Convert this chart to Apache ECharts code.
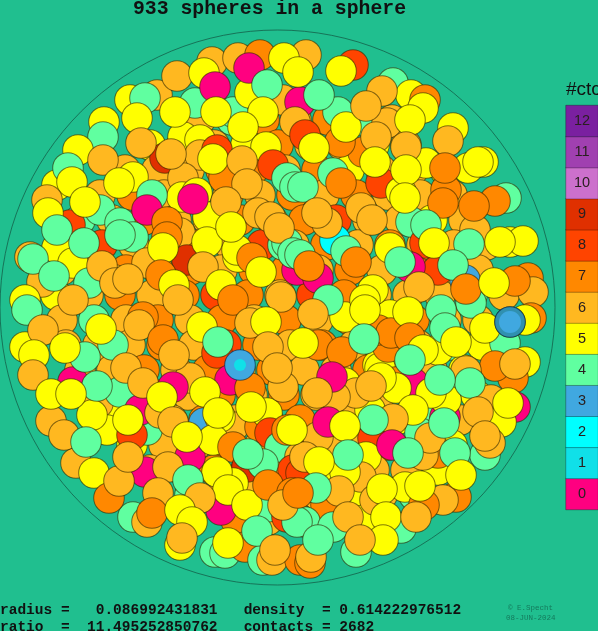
<!DOCTYPE html>
<html><head><meta charset="utf-8">
<style>html,body{margin:0;padding:0;background:#20BF8F;overflow:hidden}#c{width:598px;height:631px}</style>
<script src="https://cdn.jsdelivr.net/npm/echarts@6/dist/echarts.min.js"></script>
</head><body><div id="c"></div>
<script>
const ctcLevels = [0,1,2,3,4,5,6,7,8,9,10,11,12];
const ctcColors = ['#FF0080','#10E0E8','#00FFFF','#40A8E0','#60FFA0','#FFFF00','#FFB820','#FF8800','#FF4400','#E03000','#CC70CC','#A040B0','#7A20A0'];
const containerSphere = [[277.5,307.5]];
// spheres as [x, y, contacts], deepest first
const backSpheres = [
[200,120,6],[232,120,4],[264,120,7],[296,120,6],[328,120,7],[360,120,4],[392,120,6],
[150,145,5],[182,145,6],[214,145,6],[246,145,5],[278,145,7],[310,145,6],[342,145,6],[374,145,5],[406,145,6],
[125,170,6],[157,170,6],[189,170,6],[221,170,7],[253,170,7],[285,170,6],[317,170,7],[349,170,5],[381,170,6],[413,170,6],[445,170,5],
[100,195,6],[132,195,7],[164,195,6],[196,195,7],[228,195,6],[260,195,6],[292,195,7],[324,195,6],[356,195,7],[388,195,6],[420,195,6],[452,195,6],
[80,220,4],[112,220,6],[144,220,7],[176,220,6],[208,220,6],[240,220,7],[272,220,6],[304,220,7],[336,220,8],[368,220,6],[400,220,6],[432,220,5],[464,220,6],
[70,245,6],[102,245,8],[134,245,6],[166,245,6],[198,245,7],[230,245,6],[262,245,8],[294,245,6],[326,245,7],[358,245,6],[390,245,7],[422,245,6],[454,245,6],[486,245,6],
[62,270,6],[94,270,6],[126,270,7],[158,270,6],[190,270,7],[222,270,6],[254,270,7],[286,270,7],[318,270,6],[350,270,7],[382,270,6],[414,270,7],[446,270,6],[478,270,6],
[56,295,5],[88,295,6],[120,295,7],[152,295,6],[184,295,7],[216,295,8],[248,295,7],[280,295,6],[312,295,8],[344,295,7],[376,295,6],[408,295,6],[440,295,6],[472,295,4],[504,295,6],
[62,320,6],[94,320,4],[126,320,6],[158,320,7],[190,320,6],[222,320,7],[254,320,6],[286,320,7],[318,320,6],[350,320,7],[382,320,6],[414,320,7],[446,320,6],[478,320,6],
[66,345,6],[98,345,6],[130,345,6],[162,345,7],[194,345,6],[226,345,8],[258,345,7],[290,345,6],[322,345,7],[354,345,6],[386,345,7],[418,345,6],[450,345,4],[482,345,5],
[80,370,6],[112,370,6],[144,370,7],[176,370,6],[208,370,7],[240,370,6],[272,370,7],[304,370,6],[336,370,6],[368,370,7],[400,370,6],[432,370,6],[464,370,5],
[92,395,5],[124,395,6],[156,395,7],[188,395,6],[220,395,7],[252,395,6],[284,395,7],[316,395,6],[348,395,7],[380,395,6],[412,395,7],[444,395,4],[476,395,5],
[108,420,6],[140,420,4],[172,420,6],[204,420,7],[236,420,6],[268,420,6],[300,420,7],[332,420,6],[364,420,7],[396,420,5],[428,420,4],[460,420,6],
[132,445,5],[164,445,6],[196,445,6],[228,445,7],[260,445,6],[292,445,8],[324,445,6],[356,445,6],[388,445,7],[420,445,6],[452,445,5],
[150,470,6],[182,470,6],[214,470,7],[246,470,8],[278,470,6],[310,470,7],[342,470,5],[374,470,6],[406,470,6],[438,470,5],
[190,495,4],[222,495,6],[254,495,6],[286,495,7],[318,495,6],[350,495,5],[382,495,6],[414,495,4],
[236,520,7],[268,520,6],[300,520,7],[332,520,6],[364,520,5]
];
const midSpheres = [
[212,62,6],[238,58,6],[260,55,7],[306,55,6],[353,65,8],[393,83,4],[157,95,6],[195,103,4],[233,112,4],[250,93,5],[283,100,6],[300,102,0],[338,112,4],
[130,100,5],[183,137,5],[200,140,5],[165,158,9],[200,155,6],[217,150,8],[57,185,5],[133,177,5],[183,178,6],[224,178,7],[100,210,4],[182,197,5],[197,193,5],
[120,223,4],[133,237,4],[70,225,8],[180,233,6],[208,217,5],[258,213,6],[238,257,5],[283,245,4],[287,243,4],[30,257,6],[42,282,6],[57,248,5],[73,263,5],[147,263,6],[89,283,4],[115,280,6],[187,260,9],
[411,95,5],[425,100,7],[387,123,6],[453,128,5],[363,152,7],[340,142,7],[426,163,5],[483,162,5],[468,168,5],[333,173,4],[381,183,8],[401,192,5],[446,190,7],[506,198,4],[411,222,4],[510,242,5],[523,241,5],[475,230,6],[438,270,8],[425,243,8],[465,280,3],[528,278,7],[533,292,6],[335,240,2],[297,270,0],[237,250,5],
[25,347,5],[143,317,7],[73,382,0],[204,423,3],[233,427,6],[220,417,5],[190,378,6],[190,457,0],[76,463,6],[115,413,5],[51,421,6],[133,517,4],[147,522,6],[180,545,5],[215,552,4],[225,553,4],[245,547,7],[263,560,4],[272,560,6],[300,560,7],[217,353,8],[230,380,0],
[173,387,0],[98,403,6],[107,430,5],[92,415,5],[120,392,4],[147,430,4],[140,410,0],[160,413,6],[213,440,5],[233,447,7],[260,427,7],[267,413,5],[270,433,8],[247,467,9],[280,447,4],[300,457,6],[293,470,8],[233,483,5],[267,507,4],
[345,317,5],[390,315,5],[531,318,7],[525,320,5],[471,303,4],[318,345,7],[505,343,4],[525,362,5],[513,378,7],[345,383,5],[378,365,5],[380,368,5],[396,382,7],[413,383,0],[491,400,6],[515,407,0],[445,417,0],[501,422,5],[358,408,6],[373,438,8],[438,453,7],[423,455,6],[328,443,6],[485,455,4],[366,457,5],[456,497,7],[405,487,5],[443,500,6],[361,477,6],[375,500,6],[326,505,7],[305,522,4],[333,527,4],[356,552,4],[310,563,7],[311,557,6],
[301,473,8],[331,470,5],[345,472,5],[318,437,6],[305,457,6],[370,410,5],[396,388,5],[388,347,7],[378,330,7],[391,333,7],[438,350,5],[446,400,5],[420,433,4],[430,438,6],[356,393,6],[335,397,6]
];
const frontSpheres = [
[249,68,0],[284,58,5],[177,76,6],[204,73,5],[215,87,0],[267,85,4],[298,72,5],[341,71,5],[319,95,4],[145,98,4],[137,118,5],[175,112,5],[216,112,5],[263,112,5],[243,127,5],[295,122,6],[305,135,8],
[104,122,5],[103,137,4],[141,143,6],[171,154,6],[213,159,5],[266,147,5],[78,150,5],[68,168,4],[103,160,6],[72,182,5],[119,183,5],[152,195,4],[193,199,0],[242,161,6],[273,165,8],[247,184,6],[287,178,4],[295,187,4],[226,202,6],
[47,200,6],[48,213,5],[85,202,5],[57,230,4],[84,243,4],[120,235,4],[147,210,0],[167,222,7],[167,237,7],[163,248,5],[207,242,5],[231,227,5],[270,217,6],[279,228,6],[252,258,7],[261,272,5],[293,253,4],[33,259,4],[54,276,4],[102,266,6],[115,283,6],[128,279,6],[161,275,7],[174,285,5],[203,267,6],[221,285,5],[233,300,7],[281,297,6],[25,300,5],[73,300,6],[178,300,6],
[346,127,5],[382,91,6],[366,106,6],[423,108,5],[410,120,5],[376,137,6],[406,147,6],[448,141,6],[314,148,5],[375,162,5],[445,168,7],[406,170,5],[478,162,5],[341,183,7],[303,187,4],[405,198,5],[495,201,7],[474,206,7],[443,203,7],[327,223,6],[317,213,6],[361,208,6],[372,220,6],[426,225,4],
[346,251,4],[356,262,7],[390,248,5],[410,267,0],[400,262,4],[434,243,5],[469,244,4],[500,242,5],[453,265,4],[466,289,7],[515,281,7],[494,283,5],[300,255,4],[318,278,0],[309,266,7],[419,287,6],[373,290,5],[328,300,4],[365,300,5],
[27,310,4],[43,330,6],[113,345,4],[101,329,5],[85,357,4],[65,348,5],[34,355,5],[33,375,6],[139,325,6],[163,340,7],[174,355,6],[202,327,5],[218,342,4],[250,323,6],[266,322,5],[268,347,6],[126,368,6],[283,387,6],[277,368,6],[250,388,7],[205,392,5],[143,383,6],[162,397,5],[97,386,4],[51,394,5],[71,394,5],[132,435,8],[128,420,5],[173,422,6],[187,437,5],[251,407,5],[218,413,5],[287,430,7],[292,430,5],[64,435,6],[86,442,4],[145,472,0],[168,467,6],[217,472,5],[188,480,4],[94,473,5],[109,498,7],[119,481,6],[128,457,6],[158,493,6],[221,510,0],[228,490,5],[200,498,6],[247,505,5],[263,464,4],[248,454,4],[268,485,7],[292,493,7],[152,513,7],[180,510,5],[192,522,5],[182,538,6],[228,543,5],[257,531,4],[275,550,6],[287,517,8],[297,522,4],[283,505,6],
[313,314,6],[365,310,5],[408,312,5],[441,310,4],[445,328,4],[456,342,5],[485,328,5],[510,322,3],[303,343,5],[342,352,7],[364,339,4],[410,338,7],[423,350,5],[410,360,4],[495,366,7],[515,364,6],[466,371,6],[470,383,4],[332,377,0],[381,378,5],[371,386,6],[431,393,5],[440,380,4],[317,393,6],[478,412,6],[508,403,5],[413,410,5],[444,423,4],[393,419,6],[373,420,4],[328,422,0],[345,426,5],[490,443,6],[485,436,6],[455,453,4],[392,445,0],[408,453,4],[348,455,4],[319,462,5],[461,475,5],[424,505,7],[420,486,5],[382,489,5],[339,491,6],[316,488,4],[298,493,7],[401,528,4],[386,517,5],[416,517,6],[348,517,6],[318,540,4],[383,540,5],[360,540,6]
];
const rattlerOuter = [[240,365,3],[510,322,3]];
const rattlerInner = [[240,365,1,12],[510,322,3,22]];
const legendTitle = '#ctc';
const titleText = '933 spheres in a sphere';
const statLines = ['radius =   0.086992431831   density  = 0.614222976512','ratio  =  11.495252850762   contacts = 2682'];
const creditLines = ['\u00A9 E.Specht','08-JUN-2024'];

const balls = backSpheres.concat(midSpheres, frontSpheres);
const chart = echarts.init(document.getElementById('c'), null, {renderer:'canvas'});
const mono = '"Liberation Mono", monospace';
const ballStyle = {opacity:1,color:p=>ctcColors[p.value[2]],borderColor:'rgba(50,40,0,0.62)',borderWidth:1};
chart.setOption({
  animation:false,
  backgroundColor:'#20BF8F',
  grid:[
    {left:0,top:0,width:598,height:631},
    {left:566,top:105.5,width:35,height:404}
  ],
  xAxis:[
    {gridIndex:0,type:'value',min:0,max:598,show:false},
    {gridIndex:1,type:'category',data:['#ctc'],show:false}
  ],
  yAxis:[
    {gridIndex:0,type:'value',min:0,max:631,inverse:true,show:false},
    {gridIndex:1,type:'category',data:ctcLevels.map(String),show:false}
  ],
  series:[
    {type:'scatter',xAxisIndex:0,yAxisIndex:0,data:containerSphere,symbolSize:555,silent:true,clip:false,
     itemStyle:{color:'rgba(0,0,0,0)',borderColor:'#14604a',borderWidth:1}},
    {type:'scatter',xAxisIndex:0,yAxisIndex:0,data:balls,symbolSize:30.6,silent:true,progressive:0,itemStyle:ballStyle},
    {type:'scatter',xAxisIndex:0,yAxisIndex:0,data:rattlerOuter,symbolSize:30.6,silent:true,
     itemStyle:{opacity:1,color:p=>p.dataIndex===1?'#3090B0':ctcColors[3],borderColor:'rgba(0,30,60,0.6)',borderWidth:1}},
    {type:'scatter',xAxisIndex:0,yAxisIndex:0,data:rattlerInner,symbolSize:v=>v[3],silent:true,
     itemStyle:{opacity:1,color:p=>ctcColors[p.value[2]]}},
    {type:'heatmap',xAxisIndex:1,yAxisIndex:1,silent:true,
     data:ctcLevels.map((v,i)=>[0,i,v]),
     itemStyle:{color:p=>ctcColors[p.value[2]],borderColor:'rgba(0,0,0,0.3)',borderWidth:1},
     label:{show:true,formatter:p=>String(p.value[2]),fontFamily:'"Liberation Sans"',fontSize:14.5,color:'#2a2020'}}
  ],
  graphic:[
    {type:'text',left:133,top:-1,style:{text:titleText,font:'bold 19.8px '+mono,fill:'#111'}},
    {type:'text',left:566,top:80,style:{text:legendTitle,font:'19px "Liberation Sans"',fill:'#111'}},
    {type:'text',left:0,top:603,style:{text:statLines[0],font:'bold 14.5px '+mono,fill:'#111'}},
    {type:'text',left:0,top:620,style:{text:statLines[1],font:'bold 14.5px '+mono,fill:'#111'}},
    {type:'text',left:508,top:604,style:{text:creditLines[0],font:'7.5px '+mono,fill:'#147a5c'}},
    {type:'text',left:506,top:614,style:{text:creditLines[1],font:'7.5px '+mono,fill:'#147a5c'}}
  ]
});
</script></body></html>
